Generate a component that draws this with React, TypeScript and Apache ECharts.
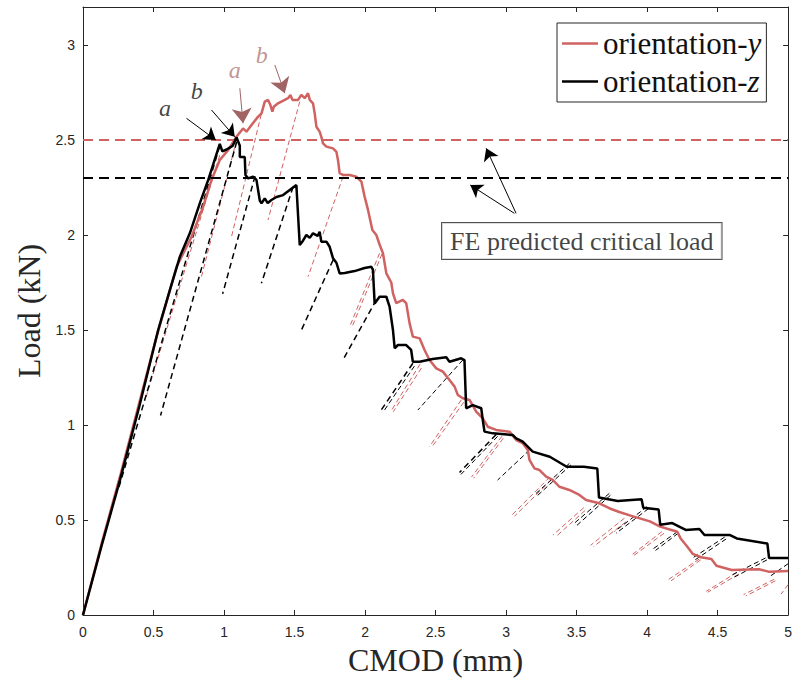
import React, { useEffect, useRef } from "react";
import * as echarts from "echarts";

// ---- orientation-y (red) ----
const cmodY = [0, 0.13, 0.27, 0.4, 0.522, 0.664, 0.77, 0.852, 0.911, 0.97, 1.029, 1.088, 1.135, 1.159, 1.195, 1.242, 1.266, 1.289, 1.312, 1.329, 1.343, 1.353, 1.383, 1.407, 1.431, 1.454, 1.471, 1.485, 1.525, 1.548, 1.572, 1.596, 1.608, 1.631, 1.643, 1.655, 1.678, 1.69, 1.702, 1.726, 1.773, 1.797, 1.808, 1.82, 1.844, 1.891, 1.938, 1.974, 1.997, 2.021, 2.052, 2.08, 2.103, 2.127, 2.151, 2.186, 2.198, 2.221, 2.268, 2.292, 2.316, 2.339, 2.387, 2.422, 2.457, 2.505, 2.552, 2.599, 2.635, 2.658, 2.693, 2.741, 2.788, 2.835, 2.87, 2.93, 3.024, 3.072, 3.118, 3.154, 3.166, 3.201, 3.237, 3.284, 3.331, 3.378, 3.449, 3.52, 3.567, 3.661, 3.732, 3.803, 3.9, 4.02, 4.093, 4.214, 4.238, 4.287, 4.323, 4.383, 4.456, 4.492, 4.6, 4.793, 4.867, 5.0];
const loadY = [0, 0.37, 0.75, 1.12, 1.465, 1.833, 1.991, 2.149, 2.289, 2.395, 2.447, 2.517, 2.561, 2.544, 2.579, 2.623, 2.64, 2.702, 2.711, 2.684, 2.649, 2.675, 2.693, 2.702, 2.711, 2.72, 2.737, 2.711, 2.711, 2.737, 2.72, 2.746, 2.711, 2.693, 2.64, 2.57, 2.544, 2.517, 2.482, 2.465, 2.456, 2.438, 2.395, 2.325, 2.316, 2.316, 2.307, 2.281, 2.202, 2.132, 2.026, 2.0, 1.95, 1.904, 1.798, 1.75, 1.693, 1.641, 1.658, 1.641, 1.535, 1.465, 1.456, 1.395, 1.342, 1.298, 1.281, 1.237, 1.202, 1.158, 1.141, 1.132, 1.07, 1.035, 0.991, 0.974, 0.965, 0.921, 0.904, 0.868, 0.816, 0.772, 0.763, 0.728, 0.711, 0.675, 0.658, 0.632, 0.605, 0.588, 0.562, 0.542, 0.519, 0.493, 0.465, 0.438, 0.403, 0.358, 0.322, 0.304, 0.295, 0.259, 0.237, 0.241, 0.227, 0.232];

// ---- orientation-z (black) ----
const cmodZ = [0, 0.13, 0.262, 0.4, 0.533, 0.62, 0.687, 0.758, 0.83, 0.888, 0.97, 0.988, 1.018, 1.041, 1.062, 1.089, 1.112, 1.112, 1.147, 1.152, 1.171, 1.206, 1.23, 1.254, 1.266, 1.289, 1.31, 1.336, 1.372, 1.419, 1.466, 1.513, 1.537, 1.56, 1.584, 1.608, 1.631, 1.664, 1.678, 1.69, 1.726, 1.749, 1.773, 1.797, 1.82, 1.856, 1.926, 1.997, 2.045, 2.056, 2.068, 2.103, 2.151, 2.174, 2.198, 2.21, 2.233, 2.292, 2.327, 2.339, 2.387, 2.479, 2.576, 2.599, 2.682, 2.705, 2.717, 2.764, 2.824, 2.835, 2.847, 2.906, 3.048, 3.072, 3.118, 3.189, 3.31, 3.43, 3.551, 3.647, 3.659, 3.792, 3.961, 3.973, 4.082, 4.093, 4.178, 4.274, 4.371, 4.407, 4.588, 4.636, 4.853, 4.865, 5.0];
const loadZ = [0, 0.36, 0.71, 1.1, 1.5, 1.72, 1.886, 2.01, 2.17, 2.29, 2.48, 2.44, 2.45, 2.46, 2.47, 2.514, 2.47, 2.41, 2.41, 2.316, 2.298, 2.307, 2.29, 2.18, 2.167, 2.193, 2.168, 2.184, 2.2, 2.21, 2.237, 2.263, 1.947, 1.97, 2.0, 1.985, 2.009, 1.995, 2.017, 1.965, 1.965, 1.938, 1.877, 1.854, 1.798, 1.8, 1.81, 1.826, 1.833, 1.816, 1.64, 1.675, 1.675, 1.623, 1.5, 1.404, 1.421, 1.421, 1.395, 1.333, 1.333, 1.347, 1.356, 1.333, 1.351, 1.342, 1.088, 1.105, 1.088, 1.026, 0.965, 0.956, 0.947, 0.93, 0.912, 0.86, 0.833, 0.78, 0.78, 0.771, 0.618, 0.6, 0.609, 0.564, 0.555, 0.475, 0.484, 0.448, 0.453, 0.421, 0.421, 0.403, 0.376, 0.3, 0.3];

// unloading / reloading branches: [cmodTop, loadTop, cmodBottom, loadBottom]
const unloadY = [
  [0.97, 2.42, 0.44, 1.13],
  [1.089, 2.5, 0.84, 1.78],
  [1.277, 2.675, 1.053, 1.991],
  [1.537, 2.702, 1.312, 2.079],
  [1.844, 2.307, 1.596, 1.781],
  [2.103, 1.904, 1.891, 1.517],
  [2.39, 1.32, 2.186, 1.075],
  [2.682, 1.132, 2.457, 0.886],
  [2.971, 0.941, 2.755, 0.726],
  [3.31, 0.726, 3.044, 0.528],
  [3.551, 0.565, 3.333, 0.421],
  [3.84, 0.51, 3.6, 0.367],
  [4.105, 0.439, 3.888, 0.314],
  [4.371, 0.295, 4.154, 0.188],
  [4.636, 0.224, 4.42, 0.125],
  [4.901, 0.188, 4.684, 0.107],
  [5.0, 0.16, 4.95, 0.11],
];
const reloadY = [
  [2.12, 1.9, 1.91, 1.52],
  [2.4, 1.3, 2.2, 1.07],
  [2.7, 1.12, 2.47, 0.88],
  [2.98, 0.93, 2.77, 0.72],
  [3.32, 0.71, 3.06, 0.52],
  [3.56, 0.55, 3.35, 0.41],
  [3.85, 0.49, 3.62, 0.36],
  [4.12, 0.43, 3.9, 0.31],
  [4.38, 0.29, 4.17, 0.18],
  [4.65, 0.215, 4.43, 0.12],
  [4.91, 0.18, 4.7, 0.1],
];
const unloadZ = [
  [0.97, 2.47, 0.25, 0.66],
  [1.09, 2.49, 0.55, 1.05],
  [1.22, 2.31, 0.99, 1.69],
  [1.49, 2.254, 1.265, 1.746],
  [1.773, 1.868, 1.549, 1.5],
  [2.08, 1.658, 1.843, 1.342],
  [2.339, 1.325, 2.115, 1.079],
  [2.93, 0.95, 2.67, 0.75],
];
const unloadZThin = [
  [2.693, 1.342, 2.375, 1.079],
  [3.166, 0.868, 2.94, 0.71],
  [3.449, 0.798, 3.201, 0.632],
  [3.732, 0.64, 3.484, 0.483],
  [4.0, 0.57, 3.77, 0.44],
  [4.214, 0.438, 4.044, 0.349],
  [4.55, 0.41, 4.323, 0.3],
  [4.84, 0.3, 4.6, 0.21],
  [5.0, 0.27, 4.865, 0.2],
  [2.35, 1.31, 2.13, 1.07],
  [2.94, 0.94, 2.68, 0.74],
  [3.46, 0.79, 3.21, 0.62],
  [3.74, 0.63, 3.5, 0.47],
  [4.01, 0.56, 3.78, 0.43],
  [4.22, 0.43, 4.06, 0.34],
  [4.56, 0.4, 4.34, 0.29],
  [4.85, 0.29, 4.62, 0.2],
];

const criticalY = 2.5;
const criticalZ = 2.3;

// annotations: [label, x, y]
const labelsZ = [["a", 0.581, 2.668], ["b", 0.807, 2.758]];
const labelsY = [["a", 1.076, 2.868], ["b", 1.268, 2.947]];
// arrows: [xFrom, yFrom, xTo, yTo]
const arrowsZ = [
  [0.734, 2.614, 0.942, 2.5],
  [0.911, 2.658, 1.076, 2.517],
  [3.071, 2.114, 2.859, 2.456],
  [3.059, 2.114, 2.746, 2.263],
];
const arrowsY = [
  [1.112, 2.772, 1.135, 2.588],
  [1.36, 2.895, 1.431, 2.746],
];
const noteText = "FE predicted critical load";
const notePos = [3.537, 1.968];

const RED = "#d06262";
const AX = "#262626";
const SERIF = "'Liberation Serif', 'Times New Roman', serif";
const SANS = "'Liberation Sans', Arial, Helvetica, sans-serif";

const pairs = (xs: number[], ys: number[]) => xs.map((x, i) => [x, ys[i]]);
const segs = (arr: number[][]) => arr.map(([a, b, c, d]) => ({ coords: [[a, b], [c, d]] }));

export default function App() {
  const ref = useRef<HTMLDivElement>(null);
  useEffect(() => {
    const chart = echarts.init(ref.current!, null, { renderer: "svg" });
    const baseX = {
      type: "value",
      min: 0,
      max: 5,
      interval: 0.5,
      splitLine: { show: false },
      axisLine: { show: true, onZero: false, lineStyle: { color: AX, width: 1 } },
      axisTick: { show: true, inside: true, length: 5, lineStyle: { color: AX } },
    };
    const baseY = {
      type: "value",
      min: 0,
      max: 3.2,
      interval: 0.5,
      splitLine: { show: false },
      axisLine: { show: true, onZero: false, lineStyle: { color: AX, width: 1 } },
      axisTick: { show: true, inside: true, length: 5, lineStyle: { color: AX } },
    };
    const labelData = [
      ...labelsZ.map(([t, x, y]) => ({ value: [x, y], name: t, label: { color: "#111" } })),
      ...labelsY.map(([t, x, y]) => ({ value: [x, y], name: t, label: { color: "#b07878" } })),
    ];
    chart.setOption({
      animation: false,
      backgroundColor: "#ffffff",
      grid: { left: 83, right: 6, top: 7, bottom: 73, containLabel: false },
      xAxis: [
        {
          ...baseX,
          position: "bottom",
          axisLabel: { color: AX, fontFamily: SANS, fontSize: 14, margin: 10 },
          name: "CMOD (mm)",
          nameLocation: "middle",
          nameGap: 29,
          nameTextStyle: { fontFamily: SERIF, fontSize: 32, color: AX },
        },
        { ...baseX, position: "top", axisLabel: { show: false } },
      ],
      yAxis: [
        {
          ...baseY,
          position: "left",
          axisLabel: { color: AX, fontFamily: SANS, fontSize: 14, margin: 8, showMaxLabel: false },
          name: "Load (kN)",
          nameLocation: "middle",
          nameGap: 38,
          nameTextStyle: { fontFamily: SERIF, fontSize: 32, color: AX },
        },
        { ...baseY, position: "right", axisLabel: { show: false } },
      ],
      legend: {
        data: ["orientation-y", "orientation-z"],
        orient: "vertical",
        left: 557,
        top: 23,
        icon: "rect",
        itemWidth: 36,
        itemHeight: 2.5,
        itemGap: 7,
        padding: [5, 5, 5, 5],
        borderColor: AX,
        borderWidth: 1,
        backgroundColor: "#fff",
        formatter: (name: string) => name.replace(/-(\w)$/, "-{it|$1}"),
        textStyle: {
          fontFamily: SERIF,
          fontSize: 31,
          color: "#111",
          rich: { it: { fontFamily: SERIF, fontSize: 31, fontStyle: "italic", color: "#111" } },
        },
      },
      series: [
        {
          name: "unload-y",
          type: "lines",
          coordinateSystem: "cartesian2d",
          silent: true,
          z: 2,
          lineStyle: { color: RED, width: 1, type: [5, 3], opacity: 1 },
          data: segs([...unloadY, ...reloadY]),
        },
        {
          name: "unload-z",
          type: "lines",
          coordinateSystem: "cartesian2d",
          silent: true,
          z: 2,
          lineStyle: { color: "#000", width: 1.5, type: [6, 4], opacity: 1 },
          data: segs(unloadZ),
        },
        {
          name: "unload-z-thin",
          type: "lines",
          coordinateSystem: "cartesian2d",
          silent: true,
          z: 2,
          lineStyle: { color: "#000", width: 1, type: [5, 3], opacity: 1 },
          data: segs(unloadZThin),
        },
        {
          name: "orientation-y",
          type: "line",
          showSymbol: false,
          symbol: "none",
          z: 4,
          color: RED,
          lineStyle: { color: RED, width: 2.5 },
          data: pairs(cmodY, loadY),
          markLine: {
            silent: true,
            symbol: ["none", "none"],
            label: { show: false },
            lineStyle: { color: RED, width: 2, type: [10, 6] },
            data: [{ yAxis: criticalY }],
          },
        },
        {
          name: "orientation-z",
          type: "line",
          showSymbol: false,
          symbol: "none",
          z: 5,
          color: "#000",
          lineStyle: { color: "#000", width: 2.5 },
          data: pairs(cmodZ, loadZ),
          markLine: {
            silent: true,
            symbol: ["none", "none"],
            label: { show: false },
            lineStyle: { color: "#000", width: 2, type: [10, 6] },
            data: [{ yAxis: criticalZ }],
          },
        },
        {
          name: "arrows-z",
          type: "lines",
          coordinateSystem: "cartesian2d",
          silent: true,
          z: 6,
          symbol: ["none", "arrow"],
          symbolSize: 12,
          lineStyle: { color: "#000", width: 1, opacity: 1 },
          data: segs(arrowsZ),
        },
        {
          name: "arrows-y",
          type: "lines",
          coordinateSystem: "cartesian2d",
          silent: true,
          z: 6,
          symbol: ["none", "arrow"],
          symbolSize: 15,
          lineStyle: { color: "#a06464", width: 1, opacity: 1 },
          data: segs(arrowsY),
        },
        {
          name: "labels",
          type: "scatter",
          silent: true,
          z: 7,
          symbolSize: 1,
          itemStyle: { color: "transparent" },
          label: {
            show: true,
            position: "inside",
            fontFamily: SERIF,
            fontStyle: "italic",
            fontSize: 24,
            formatter: (p: any) => p.name,
          },
          data: labelData,
        },
        {
          name: "note",
          type: "scatter",
          silent: true,
          z: 8,
          symbolSize: 1,
          itemStyle: { color: "transparent" },
          label: {
            show: true,
            position: "inside",
            formatter: noteText,
            fontFamily: SERIF,
            fontSize: 26,
            lineHeight: 28,
            color: "#111",
            backgroundColor: "#fff",
            borderColor: AX,
            borderWidth: 1,
            padding: [4, 8, 4, 8],
          },
          data: [notePos],
        },
      ],
    });
    return () => chart.dispose();
  }, []);
  return <div ref={ref} style={{ position: "absolute", left: 0, top: 0, width: 795, height: 688 }} />;
}
